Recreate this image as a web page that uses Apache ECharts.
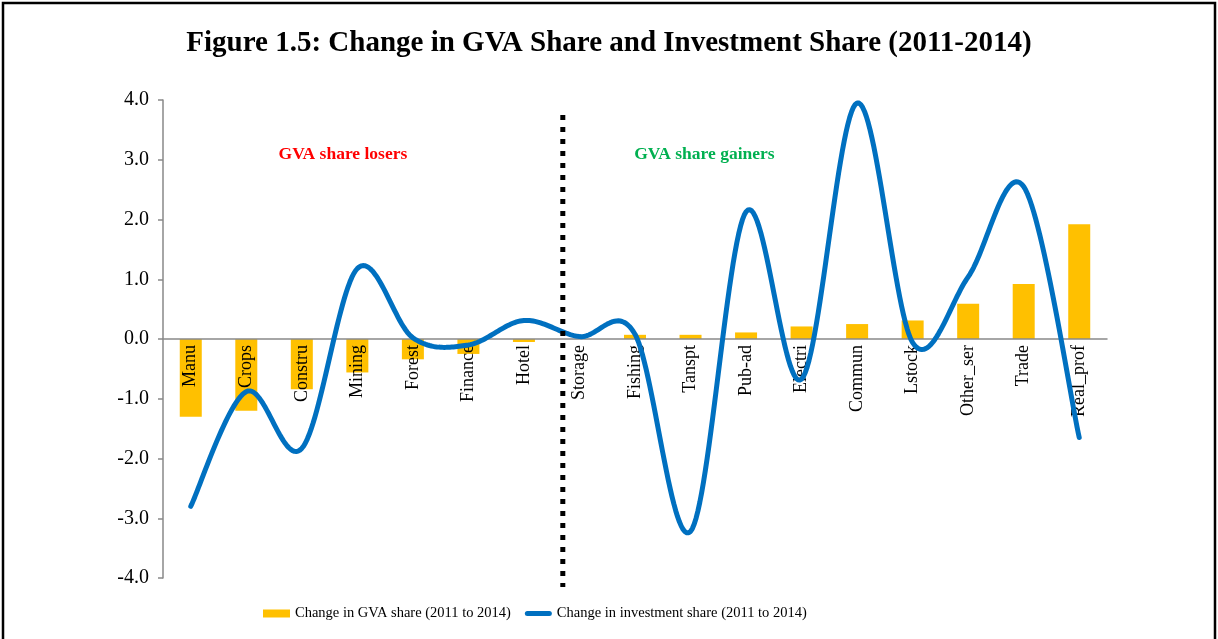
<!DOCTYPE html>
<html>
<head>
<meta charset="utf-8">
<script src="https://cdn.jsdelivr.net/npm/echarts@6/dist/echarts.min.js"></script>
<style>
  html, body { margin: 0; padding: 0; background: #fff; }
  #chart { width: 1218px; height: 639px; }
</style>
</head>
<body>
<div id="chart"></div>
<script>
// sectors, ordered from GVA share losers to gainers
const categories = ["Manu", "Crops", "Constru", "Mining", "Forest", "Finance", "Hotel", "Storage",
  "Fishing", "Tanspt", "Pub-ad", "Electri", "Commun", "Lstock", "Other_ser", "Trade", "Real_prof"];
// Change in GVA share (2011 to 2014)
const gvaShare = [-1.30, -1.20, -0.84, -0.56, -0.34, -0.25, -0.05, 0.00,
  0.07, 0.07, 0.11, 0.21, 0.25, 0.31, 0.59, 0.92, 1.92];
// Change in investment share (2011 to 2014)
const investShare = [-2.80, -0.88, -1.83, 1.18, 0.02, -0.10, 0.31, 0.04,
  0.08, -3.22, 2.13, -0.67, 3.95, -0.06, 1.04, 2.55, -1.65];
// divider between losers and gainers (position on the category index scale)
const dividerAt = 6.7;
const dividerRange = [3.75, -4.15];
// annotations: [text, x index, y value]
const losersNote = ["GVA share losers", 2.74, 3.08];
const gainersNote = ["GVA share gainers", 9.25, 3.08];

const serif = "'Liberation Serif', 'Times New Roman', serif";
const blue = "#0070C0";
const chart = echarts.init(document.getElementById("chart"));

// Excel style smoothed line (catmull-rom, 1/6 control points) in pixel space
function smoothLine(params, api) {
  if (params.dataIndex !== 0) return null;
  const pts = investShare.map((v, i) => api.coord([i, v]));
  const n = pts.length;
  const out = [];
  for (let i = 0; i < n - 1; i++) {
    const p0 = pts[Math.max(i - 1, 0)], p1 = pts[i], p2 = pts[i + 1], p3 = pts[Math.min(i + 2, n - 1)];
    const c1 = [p1[0] + (p2[0] - p0[0]) / 6, p1[1] + (p2[1] - p0[1]) / 6];
    const c2 = [p2[0] - (p3[0] - p1[0]) / 6, p2[1] - (p3[1] - p1[1]) / 6];
    for (let k = i === 0 ? 0 : 1; k <= 30; k++) {
      const t = k / 30, u = 1 - t;
      const a = u * u * u, b = 3 * u * u * t, c = 3 * u * t * t, d = t * t * t;
      out.push([
        a * p1[0] + b * c1[0] + c * c2[0] + d * p2[0],
        a * p1[1] + b * c1[1] + c * c2[1] + d * p2[1]
      ]);
    }
  }
  return {
    type: "polyline",
    shape: { points: out },
    style: { stroke: blue, lineWidth: 5, fill: null, lineCap: "round", lineJoin: "round" }
  };
}

const option = {
  backgroundColor: "#fff",
  animation: false,
  title: {
    text: "Figure 1.5: Change in GVA Share and Investment Share (2011-2014)",
    left: "center",
    top: 24,
    textStyle: { fontFamily: serif, fontWeight: "bold", fontSize: 29, color: "#000" }
  },
  graphic: [
    {
      id: "frame",
      type: "rect",
      shape: { x: 3, y: 3, width: 1212, height: 700 },
      style: { fill: null, stroke: "#000", lineWidth: 2.5 },
      silent: true
    }
  ],
  legend: {
    bottom: 13,
    left: 258,
    itemGap: 14,
    itemWidth: 27,
    itemHeight: 8,
    textStyle: { fontFamily: serif, fontSize: 14.5, color: "#000" },
    data: [
      { name: "Change in GVA share (2011 to 2014)", icon: "rect" },
      {
        name: "Change in investment share (2011 to 2014)",
        icon: "path://M0,0 M0,8 M2.5,1.5 L24.5,1.5 A2.5,2.5 0 0 1 24.5,6.5 L2.5,6.5 A2.5,2.5 0 0 1 2.5,1.5 Z"
      }
    ]
  },
  grid: { left: 163, right: 111, top: 100, bottom: 61 },
  xAxis: [
    {
      type: "category",
      data: categories,
      z: 3,
      offset: -239,
      axisLine: { onZero: false, lineStyle: { color: "#898989", width: 1.5 } },
      axisTick: { show: false },
      axisLabel: { rotate: 90, margin: 6, fontFamily: serif, fontSize: 18, color: "#000", interval: 0 }
    },
    {
      type: "value",
      show: false,
      min: -0.5,
      max: categories.length - 0.5
    }
  ],
  yAxis: {
    type: "value",
    min: -4,
    max: 4,
    interval: 1,
    splitLine: { show: false },
    axisLine: { show: true, onZero: false, lineStyle: { color: "#898989", width: 1.5 } },
    axisTick: { show: true, length: 5, lineStyle: { color: "#898989", width: 1.5 } },
    axisLabel: {
      margin: 14,
      fontFamily: serif,
      fontSize: 20,
      color: "#000",
      formatter: (v) => v.toFixed(1)
    }
  },
  series: [
    {
      name: "Change in GVA share (2011 to 2014)",
      type: "bar",
      data: gvaShare,
      barWidth: 22,
      z: 2,
      itemStyle: { color: "#FFC000" }
    },
    {
      name: "Change in investment share (2011 to 2014)",
      type: "custom",
      data: investShare.map((v, i) => [i, v]),
      encode: { x: 0, y: 1 },
      renderItem: smoothLine,
      z: 4,
      itemStyle: { color: blue }
    },
    {
      name: "notes",
      type: "scatter",
      xAxisIndex: 1,
      data: [],
      z: 5,
      markPoint: {
        silent: true,
        symbol: "circle",
        symbolSize: 0,
        label: {
          show: true,
          position: "inside",
          fontFamily: serif,
          fontWeight: "bold",
          fontSize: 17.5,
          formatter: (p) => p.name
        },
        data: [
          { name: losersNote[0], coord: [losersNote[1], losersNote[2]], label: { color: "#FF0000" } },
          { name: gainersNote[0], coord: [gainersNote[1], gainersNote[2]], label: { color: "#00B050" } }
        ]
      }
    }
  ]
};

chart.setOption(option);

// dotted divider, placed through the axes' own scales
const divTop = chart.convertToPixel({ seriesIndex: 2 }, [dividerAt, dividerRange[0]]);
const divBottom = chart.convertToPixel({ seriesIndex: 2 }, [dividerAt, dividerRange[1]]);
chart.setOption({
  graphic: [{
    id: "divider",
    type: "line",
    z: 10,
    silent: true,
    shape: { x1: divTop[0], y1: divTop[1], x2: divBottom[0], y2: divBottom[1] },
    style: { stroke: "#000", lineWidth: 5, lineDash: [5, 7] }
  }]
});
</script>
</body>
</html>
